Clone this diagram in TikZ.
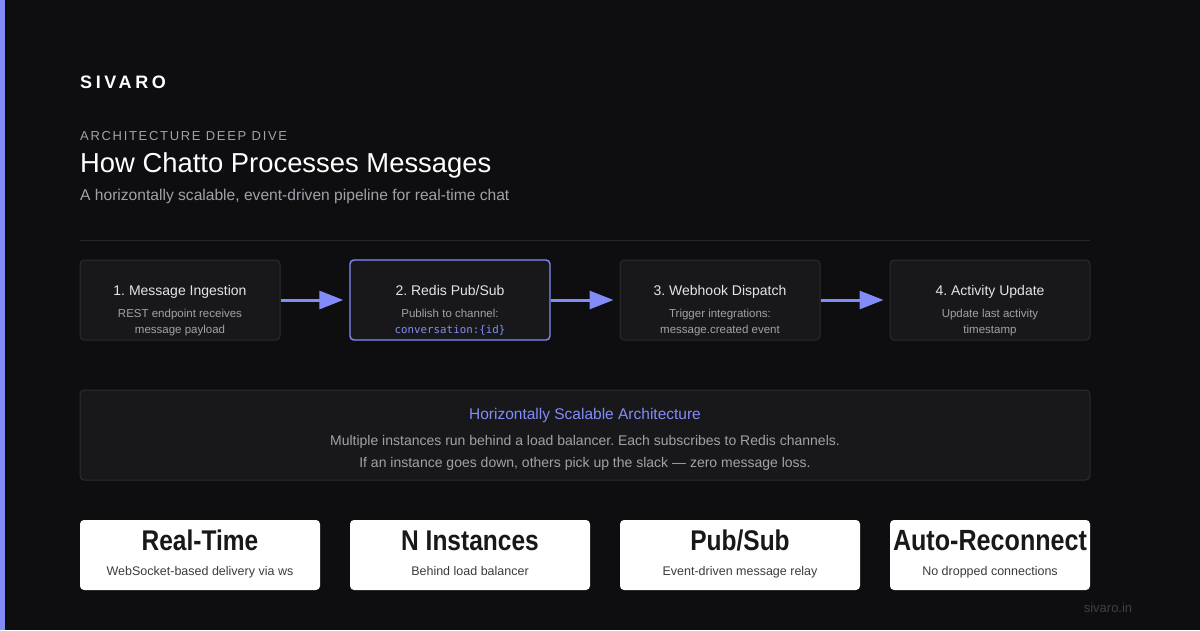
\documentclass[tikz,border=0pt]{standalone}
\usepackage{fontspec}
\setmainfont{Liberation Sans}
\newfontfamily\monof{DejaVu Sans Mono}
\usetikzlibrary{arrows.meta}
\frenchspacing
\definecolor{bg}{HTML}{0E0E10}
\definecolor{boxfill}{HTML}{18181B}
\definecolor{boxline}{HTML}{2C2C31}
\definecolor{accent}{HTML}{818CF8}
\definecolor{graytxt}{HTML}{A1A1AA}
\definecolor{boxtitle}{HTML}{E4E4E7}
\definecolor{dimtxt}{HTML}{3F3F46}
\definecolor{sep}{HTML}{27272A}
\definecolor{darktxt}{HTML}{18181B}
\tikzset{
  stepbox/.style={draw=boxline, line width=1pt, fill=boxfill, rounded corners=4pt, minimum width=200pt, minimum height=80pt, inner sep=0pt},
  hlbox/.style={stepbox, draw=accent, line width=1.4pt},
  steptitle/.style={text=boxtitle, font=\fontsize{14}{16}\selectfont, anchor=base, inner sep=0pt},
  stepsub/.style={text=graytxt, font=\fontsize{11.5}{13}\selectfont, anchor=base, inner sep=0pt},
  flow/.style={draw=accent, line width=3pt, -{Triangle[length=24pt,width=18pt]}},
  statbox/.style={fill=white, rounded corners=4pt, minimum height=70pt, inner sep=0pt},
  stattitle/.style={text=darktxt, font=\fontsize{28.5}{30}\selectfont\bfseries\addfontfeature{FakeStretch=0.86}, anchor=base, inner sep=0pt},
  statsub/.style={text=darktxt!85!white, font=\fontsize{12.5}{14}\selectfont, anchor=base, inner sep=0pt},
}
\begin{document}
\begin{tikzpicture}[x=1pt,y=-1pt]
\useasboundingbox (0,0) rectangle (1200,630);
\fill[bg] (0,0) rectangle (1200,630);
\fill[accent] (0,0) rectangle (5,630);

% header
\node[anchor=base west, inner sep=0pt, text=white, font=\fontsize{18}{20}\selectfont\bfseries\addfontfeature{LetterSpace=20}] (brand) at (80,88) {SIVARO};
\node[anchor=base west, inner sep=0pt, text=graytxt, font=\fontsize{13}{15}\selectfont\addfontfeature{LetterSpace=13}] (kicker) at (80,140) {ARCHITECTURE DEEP DIVE};
\node[anchor=base west, inner sep=0pt, text=white, font=\fontsize{27.4}{30}\selectfont] (title) at (80,172) {How Chatto Processes Messages};
\node[anchor=base west, inner sep=0pt, text=graytxt, font=\fontsize{15.6}{17}\selectfont] (subtitle) at (80,200) {A horizontally scalable, event-driven pipeline for real-time chat};
\draw[sep, line width=1pt] (80,240) coordinate (sepL) -- (1090,240) coordinate (sepR);

% pipeline
\node[stepbox] (s1) at (180,300) {};
\node[hlbox] (s2) at (450,300) {};
\node[stepbox] (s3) at (720,300) {};
\node[stepbox] (s4) at (990,300) {};

\node[steptitle] (t1) at (180,295) {1. Message Ingestion};
\node[stepsub] (u1a) at (180,317) {REST endpoint receives};
\node[stepsub] (u1b) at (180,333) {message payload};

\node[steptitle] (t2) at (450,295) {2. Redis Pub/Sub};
\node[stepsub] (u2a) at (450,317) {Publish to channel:};
\node[stepsub, text=accent, font=\monof\fontsize{10.8}{13}\selectfont] (u2b) at (450,333) {conversation:\{id\}};

\node[steptitle] (t3) at (720,295) {3. Webhook Dispatch};
\node[stepsub] (u3a) at (720,317) {Trigger integrations:};
\node[stepsub] (u3b) at (720,333) {message.created event};

\node[steptitle] (t4) at (990,295) {4. Activity Update};
\node[stepsub] (u4a) at (990,317) {Update last activity};
\node[stepsub] (u4b) at (990,333) {timestamp};

\draw[flow] (s1.east) -- ([xshift=-6pt]s2.west);
\draw[flow] (s2.east) -- ([xshift=-6pt]s3.west);
\draw[flow] (s3.east) -- ([xshift=-6pt]s4.west);

% scalable box
\node[stepbox, minimum width=1010pt, minimum height=90pt] (arch) at (585,435) {};
\node[anchor=base, inner sep=0pt, text=accent, font=\fontsize{15.5}{17}\selectfont] (archt) at (585,419.5) {Horizontally Scalable Architecture};
\node[anchor=base, inner sep=0pt, text=graytxt, font=\fontsize{14}{16}\selectfont] (archa) at (585,445) {Multiple instances run behind a load balancer. Each subscribes to Redis channels.};
\node[anchor=base, inner sep=0pt, text=graytxt, font=\fontsize{14}{16}\selectfont] (archb) at (585,467.5) {If an instance goes down, others pick up the slack --- zero message loss.};

% stats
\node[statbox, minimum width=240pt] (k1) at (200,555) {};
\node[statbox, minimum width=240pt] (k2) at (470,555) {};
\node[statbox, minimum width=240pt] (k3) at (740,555) {};
\node[statbox, minimum width=200pt] (k4) at (990,555) {};

\node[stattitle] (k1t) at (200,550) {Real-Time};
\node[statsub] (k1s) at (200,575) {WebSocket-based delivery via ws};
\node[stattitle] (k2t) at (470,550) {N Instances};
\node[statsub] (k2s) at (470,575) {Behind load balancer};
\node[stattitle] (k3t) at (740,550) {Pub/Sub};
\node[statsub] (k3s) at (740,575) {Event-driven message relay};
\node[stattitle] (k4t) at (990,550) {\resizebox{194pt}{!}{Auto-Reconnect}};
\node[statsub] (k4s) at (990,575) {No dropped connections};

\node[anchor=base, inner sep=0pt, text=dimtxt, font=\fontsize{13}{15}\selectfont] (site) at (1108,612) {sivaro.in};
\end{tikzpicture}
\end{document}
